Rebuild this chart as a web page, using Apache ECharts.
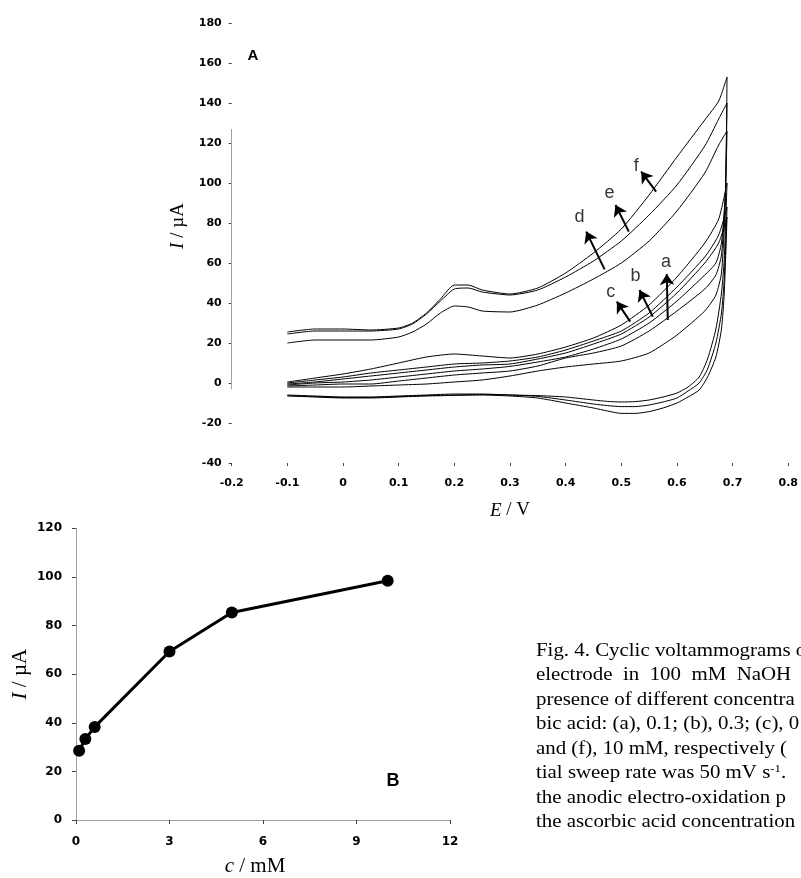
<!DOCTYPE html>
<html><head><meta charset="utf-8">
<script src="https://cdn.jsdelivr.net/npm/echarts/dist/echarts.min.js"></script>
<style>html,body{margin:0;padding:0;background:#fff;overflow:hidden}#c{width:801px;height:878px}</style>
</head><body><div id="c"></div>
<script>
// ---------- Panel A: cyclic voltammograms (E / V, I / µA) ----------
const xTicksA = [-0.2, -0.1, 0, 0.1, 0.2, 0.3, 0.4, 0.5, 0.6, 0.7, 0.8];
const yTicksA = [-40, -20, 0, 20, 40, 60, 80, 100, 120, 140, 160, 180];

// anodic (forward) sweeps, upper group
const E_up = [-0.1, -0.05, 0, 0.05, 0.1, 0.125, 0.15, 0.175, 0.2, 0.225, 0.25, 0.3, 0.35, 0.4, 0.45, 0.5, 0.55, 0.6, 0.65, 0.675, 0.69];
const d_fwd = [20, 21.5, 21.5, 21.5, 23, 25.5, 29.5, 35, 38.5, 38, 36, 35.5, 39, 45, 52, 60, 71, 86, 105, 119, 126];
const e_fwd = [24.5, 26, 26, 26, 27, 29.5, 34.5, 41, 47, 47.5, 45.5, 44, 46.5, 53, 61, 71, 84, 99, 118.5, 132, 140];
const f_fwd = [25.5, 27, 27, 26.5, 27.5, 30, 35, 42, 49, 49, 46.5, 44.5, 47.5, 55, 65, 77, 94, 113, 131.5, 141, 153];

// anodic sweeps, lower group
const E_low = [-0.1, -0.05, 0, 0.05, 0.1, 0.15, 0.2, 0.25, 0.3, 0.35, 0.4, 0.45, 0.5, 0.55, 0.6, 0.65, 0.675, 0.69];
const a_fwd = [-0.5, 0.5, 2, 3.5, 5, 6.5, 8, 9, 9.5, 12, 15, 19.5, 24.5, 33, 45, 60, 70, 83];
const b_fwd = [0, 1.5, 3, 5, 6.5, 8, 9.5, 10, 11, 13, 16.5, 21, 26, 35, 48, 63, 74, 88];
const c_fwd = [0.5, 2.5, 4.5, 7, 10, 13, 14.5, 13.5, 12.5, 14.5, 18, 22.5, 29, 39, 53, 70, 82, 100];

// cathodic (return) sweeps of d, e, f (listed in increasing E)
const E_ret = [-0.1, -0.05, 0, 0.05, 0.1, 0.15, 0.2, 0.25, 0.3, 0.35, 0.4, 0.45, 0.5, 0.55, 0.6, 0.65, 0.67, 0.68, 0.687, 0.69];
const d_rev = [-1, 0, 0.5, 1.5, 3, 4.5, 6, 7, 8.3, 10.5, 13, 17, 22, 30, 41, 54, 60, 70, 95, 126];
const e_rev = [-1.5, -1, -0.5, -0.5, 1, 2.5, 4, 5, 6, 8.5, 12.5, 15, 18.5, 26, 36, 47, 54, 64, 95, 140];
const f_rev = [-2, -2, -2, -1.5, -1, -0.5, 0.5, 1.5, 3.5, 6, 8, 9.5, 11, 15, 24, 36, 44, 55, 90, 153];

// cathodic sweeps of a, b, c (listed from the vertex back to -0.1 V)
const E_back = [0.69, 0.685, 0.68, 0.67, 0.655, 0.64, 0.62, 0.6, 0.575, 0.55, 0.525, 0.5, 0.475, 0.45, 0.4, 0.35, 0.3, 0.25, 0.2, 0.15, 0.1, 0.05, 0, -0.05, -0.1];
const a_rev = [83, 45, 27, 13, 3, -3.5, -7, -10, -12.5, -14.3, -15.2, -15.2, -14, -12.5, -10, -7.5, -6.5, -6, -6.2, -6.5, -7, -7.5, -7.5, -7, -6.5];
const b_rev = [88, 52, 35, 20, 7, 0, -4, -7.5, -9.5, -11, -11.8, -11.8, -11.3, -10.5, -8.5, -6.7, -6, -5.8, -6, -6.3, -6.8, -7.2, -7.2, -6.8, -6.3];
const c_rev = [100, 62, 45, 27, 12, 3, -2, -5, -7, -8.5, -9.3, -9.5, -9.2, -8.5, -7, -6.3, -6, -5.5, -5.5, -6, -6.5, -7, -7, -6.5, -6];

// curve labels with arrows
const curveLabels = ['a', 'b', 'c', 'd', 'e', 'f'];
const arrowTail = [[0.5835, 31.5], [0.5566, 33.2], [0.516, 30.7], [0.47, 56.8], [0.5135, 75.7], [0.5626, 95.7]];
const arrowHead = [[0.5817, 54.5], [0.5327, 46.5], [0.492, 40.7], [0.437, 75.7], [0.4896, 89], [0.5357, 105.7]];
const labelAt = [[0.5805, 60.5], [0.5255, 53.5], [0.481, 45.5], [0.425, 83], [0.479, 95], [0.527, 108.5]];
const axisSpanA = [-3, 127];

// ---------- Panel B: peak current vs concentration ----------
const concB = [0.1, 0.3, 0.6, 3, 5, 10];
const currB = [28.5, 33.3, 38.3, 69.3, 85.4, 98.4];
const xTicksB = [0, 3, 6, 9, 12];
const yTicksB = [0, 20, 40, 60, 80, 100, 120];

const captionLines = [
  'Fig. 4. Cyclic voltammograms o',
  'electrode  in  100  mM  NaOH',
  'presence of different concentra',
  'bic acid: (a), 0.1; (b), 0.3; (c), 0',
  'and (f), 10 mM, respectively (',
  'tial sweep rate was 50 mV s{sup|-1}.',
  'the anodic electro-oxidation p',
  'the ascorbic acid concentration'
];

const pair = (xs, ys) => xs.map((x, i) => [x, ys[i]]);
const rev = arr => arr.slice().reverse();

const cvSeries = [];
const cvDefs = [
  ['a', pair(E_low, a_fwd), pair(E_back, a_rev)],
  ['b', pair(E_low, b_fwd), pair(E_back, b_rev)],
  ['c', pair(E_low, c_fwd), pair(E_back, c_rev)],
  ['d', pair(E_up, d_fwd), rev(pair(E_ret, d_rev))],
  ['e', pair(E_up, e_fwd), rev(pair(E_ret, e_rev))],
  ['f', pair(E_up, f_fwd), rev(pair(E_ret, f_rev))]
];
cvDefs.forEach(([n, fw, bw]) => {
  [fw, bw].forEach((d, k) => cvSeries.push({
    type: 'line', name: n + (k ? ' return' : ' forward'), xAxisIndex: 0, yAxisIndex: 0,
    data: d, showSymbol: false, smooth: 0.2, silent: true,
    lineStyle: { color: '#000', width: 1 }
  }));
});

const bold = { fontFamily: 'DejaVu Sans', fontWeight: 'bold', color: '#000' };
const serifName = (sz, pad) => ({
  fontFamily: 'Liberation Serif', fontSize: sz, color: '#000', padding: pad,
  rich: { i: { fontFamily: 'Liberation Serif', fontStyle: 'italic', fontSize: sz, color: '#000' } }
});

const chart = echarts.init(document.getElementById('c'), null, { renderer: 'canvas' });
const option = {
  backgroundColor: '#fff',
  animation: false,
  grid: [
    { left: 231.7, top: 23, width: 557.3, height: 440 },
    { left: 76, top: 528.3, width: 374, height: 292.4 }
  ],
  xAxis: [
    { type: 'value', gridIndex: 0, min: xTicksA[0], max: xTicksA[xTicksA.length - 1], interval: 0.1,
      axisLine: { show: false, onZero: false }, splitLine: { show: false },
      axisTick: { show: true, length: 3, lineStyle: { color: '#444' } },
      axisLabel: Object.assign({ fontSize: 11, margin: 15, formatter: v => (Math.abs(v) < 1e-9 ? '0' : v.toFixed(1)) }, bold),
      name: '{i|E} / V', nameLocation: 'middle', nameGap: 38, nameTextStyle: serifName(19, [0, 0, 0, 0]) },
    { type: 'value', gridIndex: 1, min: xTicksB[0], max: xTicksB[xTicksB.length - 1], interval: 3,
      axisLine: { show: true, onZero: false, lineStyle: { color: '#a0a0a0' } }, splitLine: { show: false },
      axisTick: { show: true, length: 4, lineStyle: { color: '#444' } },
      axisLabel: Object.assign({ fontSize: 12, margin: 16 }, bold),
      name: '{i|c} / mM', nameLocation: 'middle', nameGap: 36, nameTextStyle: serifName(21, [0, 16, 0, 0]) }
  ],
  yAxis: [
    { type: 'value', gridIndex: 0, min: yTicksA[0], max: yTicksA[yTicksA.length - 1], interval: 20,
      axisLine: { show: false, onZero: false }, splitLine: { show: false },
      axisTick: { show: true, length: 3, lineStyle: { color: '#444' } },
      axisLabel: Object.assign({ fontSize: 11, margin: 10 }, bold),
      name: '{i|I} / µA', nameLocation: 'middle', nameGap: 40, nameRotate: 90, nameTextStyle: serifName(19, [0, 0, 0, 34]) },
    { type: 'value', gridIndex: 1, min: yTicksB[0], max: yTicksB[yTicksB.length - 1], interval: 20,
      axisLine: { show: true, onZero: false, lineStyle: { color: '#a0a0a0' } }, splitLine: { show: false },
      axisTick: { show: true, length: 4, lineStyle: { color: '#444' } },
      axisLabel: Object.assign({ fontSize: 12, margin: 14 }, bold),
      name: '{i|I} / µA', nameLocation: 'middle', nameGap: 45, nameRotate: 90, nameTextStyle: serifName(21, [0, 0, 0, 0]) }
  ],
  series: cvSeries.concat([
    { type: 'lines', coordinateSystem: 'cartesian2d', xAxisIndex: 0, yAxisIndex: 0, silent: true,
      data: [{ coords: [[xTicksA[0], axisSpanA[0]], [xTicksA[0], axisSpanA[1]]] }],
      lineStyle: { color: '#a0a0a0', width: 1, opacity: 1 }, symbol: 'none' },
    { type: 'lines', coordinateSystem: 'cartesian2d', xAxisIndex: 0, yAxisIndex: 0, silent: true,
      data: arrowTail.map((t, i) => ({ coords: [t, arrowHead[i]] })),
      symbol: ['none', 'arrow'], symbolSize: 11,
      lineStyle: { color: '#000', width: 2, opacity: 1 } },
    { type: 'scatter', xAxisIndex: 0, yAxisIndex: 0, silent: true, symbolSize: 0,
      data: labelAt.map((p, i) => [p[0], p[1], curveLabels[i]]),
      label: { show: true, position: 'inside', formatter: p => p.value[2],
        fontFamily: 'Liberation Sans', fontSize: 18, color: '#000' } },
    { type: 'line', name: 'B', xAxisIndex: 1, yAxisIndex: 1, data: pair(concB, currB),
      symbol: 'circle', symbolSize: 12, showSymbol: true, silent: true,
      itemStyle: { color: '#000' }, lineStyle: { color: '#000', width: 3 } }
  ]),
  graphic: [
    { type: 'text', x: 253, y: 56, style: { text: 'A', fontFamily: 'Liberation Sans', fontWeight: 'bold', fontSize: 15, fill: '#000', align: 'center', verticalAlign: 'middle' } },
    { type: 'text', x: 393, y: 781, style: { text: 'B', fontFamily: 'Liberation Sans', fontWeight: 'bold', fontSize: 18, fill: '#000', align: 'center', verticalAlign: 'middle' } }
  ].concat(captionLines.map((t, i) => ({
    type: 'text', x: 536, y: 651 + i * 24.5, scaleX: 1.16,
    style: { text: t, fontFamily: 'Liberation Serif', fontSize: 18, fill: '#000', align: 'left', verticalAlign: 'middle',
      rich: { sup: { fontFamily: 'Liberation Serif', fontSize: 11, fill: '#000', padding: [0, 0, 9, 0] } } }
  })))
};
chart.setOption(option);
</script></body></html>
